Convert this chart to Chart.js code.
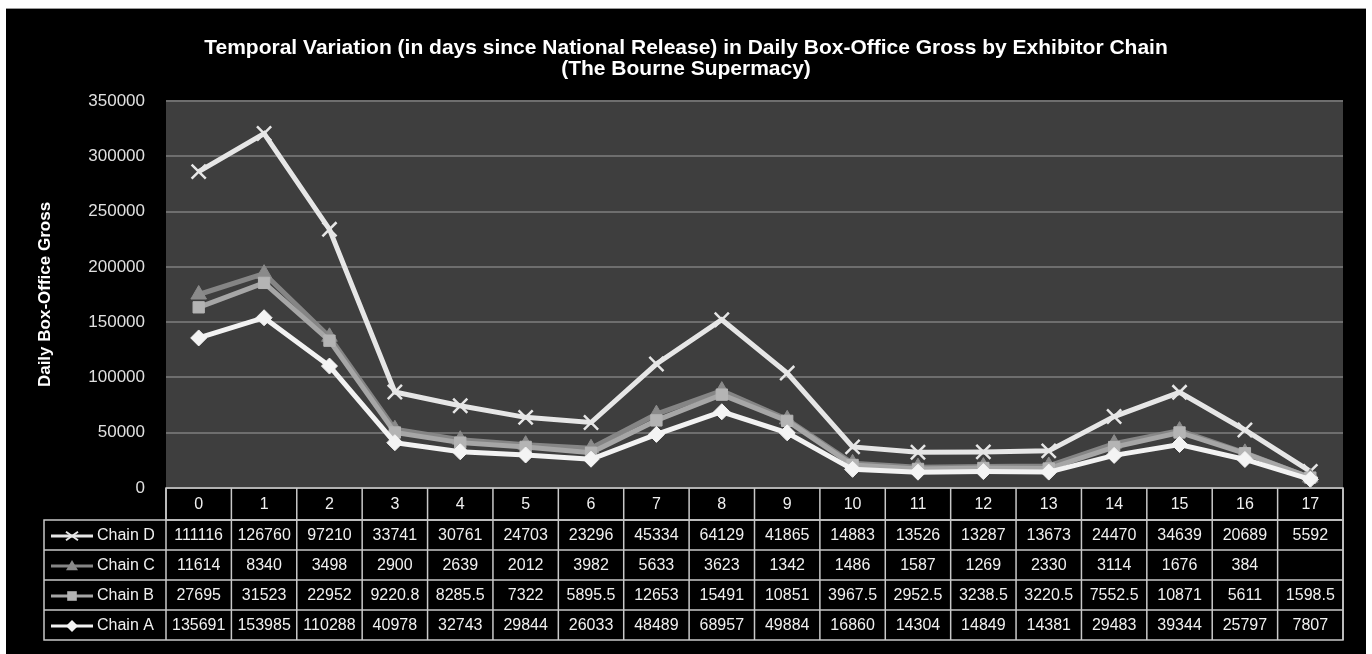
<!DOCTYPE html>
<html>
<head>
<meta charset="utf-8">
<title>Daily Box-Office Gross by Exhibitor Chain</title>
<script src="https://cdn.jsdelivr.net/npm/chart.js@4/dist/chart.umd.min.js"></script>
<style>
    html, body { margin: 0; padding: 0; background: #fff; }
    #frame {
        position: absolute;
        left: 6px;
        top: 8px;
        width: 1360px;
        height: 646px;
        background: #000;
        border-top: 1px solid #9a9a9a;
        box-sizing: border-box;
    }
    #chart { display: block; }
</style>
</head>
<body>
<div id="frame"><canvas id="chart" width="1360" height="645"></canvas></div>
<script>
// days since national release
const days = ['0', '1', '2', '3', '4', '5', '6', '7', '8', '9', '10', '11', '12', '13', '14', '15', '16', '17'];

// daily gross per exhibitor chain
const chainA = [135691, 153985, 110288, 40978, 32743, 29844, 26033, 48489, 68957, 49884, 16860, 14304, 14849, 14381, 29483, 39344, 25797, 7807];
const chainB = [27695, 31523, 22952, 9220.8, 8285.5, 7322, 5895.5, 12653, 15491, 10851, 3967.5, 2952.5, 3238.5, 3220.5, 7552.5, 10871, 5611, 1598.5];
const chainC = [11614, 8340, 3498, 2900, 2639, 2012, 3982, 5633, 3623, 1342, 1486, 1587, 1269, 2330, 3114, 1676, 384, null];
const chainD = [111116, 126760, 97210, 33741, 30761, 24703, 23296, 45334, 64129, 41865, 14883, 13526, 13287, 13673, 24470, 34639, 20689, 5592];

const yTicks = [0, 50000, 100000, 150000, 200000, 250000, 300000, 350000];

const titleLines = [
    'Temporal Variation (in days since National Release) in Daily Box-Office Gross by Exhibitor Chain',
    '(The Bourne Supermacy)'
];
const yTitle = 'Daily Box-Office Gross';

const FONT = '"Liberation Sans", Arial, sans-serif';

// series as drawn, bottom of the stack first; table rows run top to bottom
const series = [
    { label: 'Chain A', values: chainA, color: '#f2f2f2', marker: 'rectRot', markerColor: '#f4f4f4', size: 8 },
    { label: 'Chain B', values: chainB, color: '#a6a6a6', marker: 'rect', markerColor: '#b4b4b4', size: 8 },
    { label: 'Chain C', values: chainC, color: '#858585', marker: 'triangle', markerColor: '#8a8a8a', size: 9 },
    { label: 'Chain D', values: chainD, color: '#e6e6e6', marker: 'crossRot', markerColor: '#e6e6e6', size: 10 }
];
const tableRows = [series[3], series[2], series[1], series[0]];

const PLOT_LEFT = 160;
const HEADER_H = 32;
const ROW_H = 30;

function drawMarker(ctx, type, x, y, r, color) {
    ctx.save();
    ctx.fillStyle = color;
    ctx.strokeStyle = color;
    ctx.lineWidth = 2;
    ctx.beginPath();
    if (type === 'rectRot') {
        ctx.moveTo(x, y - r); ctx.lineTo(x + r, y); ctx.lineTo(x, y + r); ctx.lineTo(x - r, y);
        ctx.closePath(); ctx.fill();
    } else if (type === 'rect') {
        ctx.rect(x - r * 0.8, y - r * 0.8, r * 1.6, r * 1.6); ctx.fill();
    } else if (type === 'triangle') {
        ctx.moveTo(x, y - r); ctx.lineTo(x + r, y + r * 0.7); ctx.lineTo(x - r, y + r * 0.7);
        ctx.closePath(); ctx.fill();
    } else {
        ctx.moveTo(x - r, y - r * 0.7); ctx.lineTo(x + r, y + r * 0.7);
        ctx.moveTo(x - r, y + r * 0.7); ctx.lineTo(x + r, y - r * 0.7);
        ctx.stroke();
    }
    ctx.restore();
}

const frameAndTable = {
    id: 'frameAndTable',
    beforeDraw(chart) {
        const { ctx, chartArea } = chart;
        ctx.save();
        ctx.fillStyle = '#3e3e3e';
        ctx.fillRect(chartArea.left, chartArea.top, chartArea.right - chartArea.left, chartArea.bottom - chartArea.top);
        ctx.restore();
    },
    afterDraw(chart) {
        const { ctx, chartArea } = chart;
        const x = chart.scales.x;
        const colW = (x.right - x.left) / days.length;
        const top = chartArea.bottom;
        const legendLeft = 38;

        ctx.save();
        // title
        ctx.fillStyle = '#ffffff';
        ctx.textAlign = 'center';
        ctx.textBaseline = 'middle';
        ctx.font = 'bold 21px ' + FONT;
        ctx.fillText(titleLines[0], chart.width / 2, 39);
        ctx.fillText(titleLines[1], chart.width / 2, 60);

        // y-axis title
        ctx.save();
        ctx.translate(39, (chartArea.top + chartArea.bottom) / 2);
        ctx.rotate(-Math.PI / 2);
        ctx.font = 'bold 17px ' + FONT;
        ctx.fillText(yTitle, 0, 0);
        ctx.restore();

        // table grid
        ctx.strokeStyle = '#c8c8c8';
        ctx.lineWidth = 1.5;
        const bottom = top + HEADER_H + ROW_H * tableRows.length;
        ctx.strokeRect(x.left, top, x.right - x.left, HEADER_H);
        ctx.strokeRect(legendLeft, top + HEADER_H, x.right - legendLeft, ROW_H * tableRows.length);
        ctx.beginPath();
        for (let i = 0; i <= days.length; i++) {
            const cx = x.left + i * colW;
            ctx.moveTo(cx, top);
            ctx.lineTo(cx, bottom);
        }
        for (let r = 1; r < tableRows.length; r++) {
            const ry = top + HEADER_H + r * ROW_H;
            ctx.moveTo(legendLeft, ry);
            ctx.lineTo(x.right, ry);
        }
        ctx.stroke();

        // header cells
        ctx.font = '16px ' + FONT;
        ctx.fillStyle = '#f0f0f0';
        days.forEach((d, i) => {
            ctx.fillText(d, x.getPixelForValue(i), top + HEADER_H / 2 + 1);
        });

        // rows
        tableRows.forEach((s, r) => {
            const cy = top + HEADER_H + r * ROW_H + ROW_H / 2 + 1;
            ctx.save();
            ctx.strokeStyle = s.color;
            ctx.lineWidth = 3;
            ctx.beginPath();
            ctx.moveTo(legendLeft + 7, cy);
            ctx.lineTo(legendLeft + 49, cy);
            ctx.stroke();
            ctx.restore();
            drawMarker(ctx, s.marker, legendLeft + 28, cy, 6, s.markerColor);
            ctx.fillStyle = '#f0f0f0';
            ctx.textAlign = 'left';
            ctx.fillText(s.label, legendLeft + 53, cy);
            ctx.textAlign = 'center';
            s.values.forEach((v, i) => {
                if (v === null) return;
                ctx.fillText(String(v), x.getPixelForValue(i), cy);
            });
        });
        ctx.restore();
    }
};

new Chart(document.getElementById('chart'), {
    type: 'line',
    data: {
        labels: days,
        datasets: series.map(s => ({
            label: s.label,
            data: s.values.map(v => v === null ? 0 : v),
            borderColor: s.color,
            borderWidth: 5,
            backgroundColor: s.markerColor,
            pointBackgroundColor: s.markerColor,
            pointBorderColor: s.markerColor,
            pointBorderWidth: s.marker === 'crossRot' ? 2.5 : 1,
            pointStyle: s.marker,
            pointRadius: s.size,
            fill: false,
            tension: 0
        }))
    },
    options: {
        responsive: false,
        animation: false,
        events: [],
        layout: { padding: { top: 92, bottom: 158, left: 0, right: 23 } },
        plugins: {
            legend: { display: false },
            title: { display: false },
            tooltip: { enabled: false }
        },
        scales: {
            x: {
                offset: true,
                grid: { display: false },
                border: { display: false },
                ticks: { display: false }
            },
            y: {
                stacked: true,
                min: 0,
                max: 350000,
                afterFit(scale) { scale.width = PLOT_LEFT; },
                afterBuildTicks(scale) { scale.ticks = yTicks.map(v => ({ value: v })); },
                grid: { color: '#6e6e6e', lineWidth: 2, drawTicks: false },
                border: { display: false },
                ticks: {
                    color: '#e0e0e0',
                    font: { family: FONT, size: 17 },
                    padding: 21,
                    callback: v => String(v)
                }
            }
        }
    },
    plugins: [frameAndTable]
});
</script>
</body>
</html>
